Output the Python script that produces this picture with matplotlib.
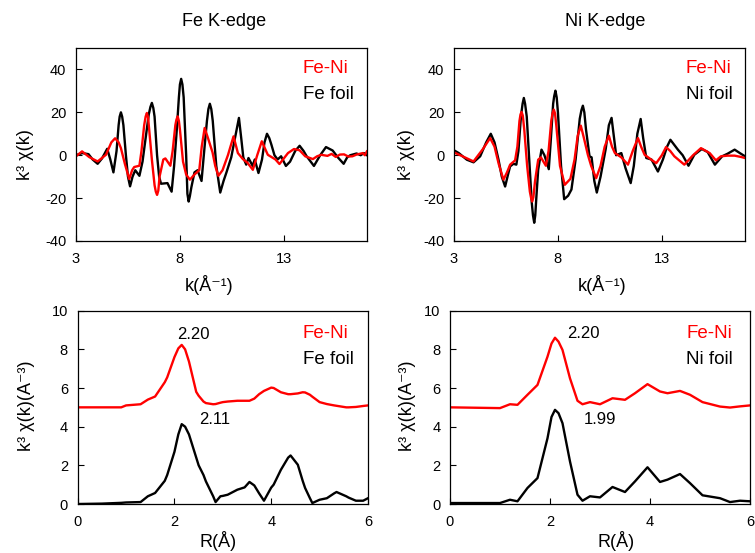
import numpy as np
import matplotlib
matplotlib.use("Agg")
from matplotlib import pyplot as plt

plt.rcParams['font.family'] = ['Liberation Sans', 'DejaVu Sans']
plt.rcParams['axes.unicode_minus'] = False

# ---- k-space, Fe K-edge ----
fe_foil_k = [3.0, 3.3, 3.6, 3.8, 4.04, 4.25, 4.5, 4.65, 4.8, 4.95, 5.05, 5.1, 5.16, 5.22, 5.28, 5.4,
             5.5, 5.6, 5.72, 5.85, 6.05, 6.2, 6.35, 6.5, 6.58, 6.65, 6.72, 6.78, 6.9, 7.0, 7.09, 7.4,
             7.6, 7.72, 7.85, 7.95, 8.0, 8.06, 8.12, 8.18, 8.3, 8.36, 8.42, 8.48, 8.55, 8.7, 8.85,
             9.04, 9.15, 9.3, 9.37, 9.44, 9.51, 9.58, 9.75, 9.94, 10.1, 10.24, 10.47, 10.65, 10.84,
             10.95, 11.05, 11.19, 11.3, 11.5, 11.6, 11.78, 11.95, 12.07, 12.19, 12.3, 12.4, 12.55,
             12.7, 12.87, 13.1, 13.3, 13.55, 13.76, 13.95, 14.1, 14.45, 14.75, 15.03, 15.35, 15.6,
             15.88, 16.05, 16.2, 16.5, 16.7, 16.85, 17.0]
fe_foil_chi = [0, 1, 0.5, -2, -4, -1.5, 3, -2, -8, 2, 14, 18, 20, 18, 14, 0,
               -10, -14.5, -10, -7, -9.6, -3, 8, 19, 22.5, 24.4, 22, 18, 0, -10, -13.3, -13,
               -17, -5, 12, 27, 33, 35.6, 33, 27, 0, -18, -21.6, -19, -15, -8, -7,
               -12, 0, 16, 21.5, 24, 21.5, 16, -5, -17.4, -12, -8, -1, 8, 17.4,
               8, -1, -4.4, -1.3, -5, -2, -8.3, -2, 6, 10, 8, 5, 0,
               -2, -0.5, -5, -3, 2, 4.4, 2, -0.5, -5, 0, 3.8, 2.2, -1,
               -4, -1, 0, 0.8, 0, 1, 0]

feni_fe_k = [3.0, 3.29, 3.64, 4.04, 4.44, 4.7, 4.88, 5.05, 5.16, 5.35, 5.56, 5.7, 5.8, 6.05, 6.15,
             6.28, 6.35, 6.41, 6.47, 6.52, 6.65, 6.78, 6.84, 6.9, 6.96, 7.02, 7.2, 7.3, 7.54, 7.65,
             7.78, 7.83, 7.89, 7.95, 8.0, 8.15, 8.3, 8.48, 8.7, 8.93, 9.05, 9.19, 9.35, 9.57, 9.7,
             9.85, 10.05, 10.31, 10.58, 10.79, 11.03, 11.25, 11.51, 11.72, 11.94, 12.1, 12.23, 12.6,
             12.79, 13.0, 13.2, 13.49, 13.76, 14.03, 14.4, 14.6, 14.8, 15.1, 15.3, 15.5, 15.7, 15.9,
             16.1, 16.3, 16.5, 16.8, 16.9, 17.0]
feni_fe_chi = [-0.5, 1.8, -0.9, -2.9, 0.2, 6, 7.9, 6, 3.3, -4, -11.1, -7, -5.5, -4.9, 2,
               14, 18, 19.7, 17.5, 12, -2, -14, -17, -18.5, -16.5, -10, -2, -1.5, -4.9, 2,
               14, 16.5, 18.1, 16, 12, -3, -9, -11.4, -9, -7, 4, 12.7, 8, 1.3, -5,
               -9.6, -7, 0, 8.8, 1, -1.8, -3.5, -6.8, 0, 6.5, 3, 0.2, -2,
               -4.1, -1.5, 1, 2.9, 2.3, -0.5, -1.8, -0.5, 0.2, -0.3, 0.6, -0.8, 0.3, 0.4,
               -0.6, -0.5, 0.3, 1, 0, 1.8]

# ---- k-space, Ni K-edge ----
ni_foil_k = [3.0, 3.23, 3.62, 3.94, 4.26, 4.55, 4.77, 4.95, 5.14, 5.3, 5.46, 5.6, 5.7, 5.86, 6.0,
             6.1, 6.22, 6.3, 6.36, 6.42, 6.5, 6.62, 6.74, 6.8, 6.86, 6.91, 6.96, 7.05, 7.21, 7.35,
             7.45, 7.56, 7.65, 7.77, 7.82, 7.88, 7.94, 8.0, 8.15, 8.3, 8.49, 8.65, 8.85, 9.05, 9.13,
             9.2, 9.27, 9.35, 9.52, 9.62, 9.75, 9.87, 10.05, 10.3, 10.45, 10.58, 10.7, 10.8, 11.05,
             11.25, 11.5, 11.65, 11.82, 11.98, 12.1, 12.25, 12.5, 12.81, 13.05, 13.25, 13.41, 13.77,
             14.0, 14.28, 14.56, 14.92, 15.2, 15.55, 15.9, 16.16, 16.5, 16.75, 17.0]
ni_foil_chi = [2.3, 1, -2.1, -3.3, -0.5, 6, 10, 6, -2, -10, -14.6, -9, -5.2, -4, -4.4,
               2, 18, 24, 26.7, 24, 18, -2, -22, -28, -31.5, -28, -20, -6.8, 2.6, 0,
               -3, -6.5, 6, 24, 27.5, 30.1, 27, 20, -5, -20.5, -18.9, -16, -2, 17, 21,
               23.1, 20, 12, -0.5, -1, -12, -17.4, -10, 3, 14, 17.4, 8, 0, 1,
               -6, -13, -5, 10, 16.9, 8, -1.3, -2, -7.6, -2, 4, 7.2, 2.6,
               0, -4.9, 0.2, 2.9, 1.5, -4.4, -0.5, 0.7, 2.6, 1, -0.5]

feni_ni_k = [3.0, 3.3, 3.94, 4.4, 4.74, 4.95, 5.15, 5.38, 5.55, 5.7, 5.94, 6.05, 6.15, 6.2, 6.25,
             6.31, 6.38, 6.52, 6.65, 6.71, 6.76, 6.82, 6.9, 7.05, 7.18, 7.42, 7.55, 7.68, 7.74, 7.8,
             7.86, 7.92, 8.1, 8.33, 8.6, 8.8, 8.95, 9.1, 9.25, 9.44, 9.6, 9.84, 10.05, 10.25, 10.45,
             10.6, 10.74, 11.05, 11.37, 11.6, 11.85, 12.0, 12.17, 12.41, 12.73, 13.0, 13.2, 13.4,
             13.6, 14.08, 14.5, 14.88, 15.3, 15.6, 15.84, 16.16, 16.5, 16.8, 17.0]
feni_ni_chi = [1.3, 0, -2.9, 3, 8, 4, -4, -11.4, -8, -4.4, -2.4, 4, 16, 19, 20.2,
               18.5, 12, -5, -17, -20, -21.6, -19.5, -12, -2.1, -1, -4.9, 2, 16, 19.5, 21.3,
               19.5, 14, -5, -13.8, -11, -2, 9, 13.8, 8, 0.2, -5, -10.7, -5, 4, 9.1,
               4, 1, -1, -4.4, 2, 8, 4, 0.2, -1.5, -3.7, 0, 3.8, 2,
               -0.5, -4.4, 0, 3.3, 1, -2.4, -0.5, -0.2, -0.2, -0.8, -1.3]

# ---- R-space, Fe K-edge ----
fe_r = [0.0, 0.5, 0.9, 1.0, 1.3, 1.45, 1.6, 1.8, 1.85, 2.0, 2.08, 2.15, 2.22, 2.3, 2.45, 2.5, 2.6,
        2.65, 2.8, 2.85, 2.95, 3.0, 3.1, 3.3, 3.45, 3.55, 3.65, 3.75, 3.85, 4.0, 4.05, 4.2, 4.35,
        4.4, 4.55, 4.65, 4.7, 4.8, 4.85, 5.0, 5.15, 5.3, 5.35, 5.55, 5.6, 5.75, 5.9, 6.0]
feni_fe_ft = [5.0, 5.0, 5.0, 5.1, 5.16, 5.4, 5.56, 6.3, 6.55, 7.6, 8.05, 8.23, 8.0, 7.37, 5.8,
              5.6, 5.3, 5.22, 5.16, 5.17, 5.24, 5.27, 5.3, 5.34, 5.34, 5.34, 5.45, 5.68, 5.85,
              6.02, 6.0, 5.78, 5.68, 5.68, 5.72, 5.78, 5.77, 5.65, 5.55, 5.27, 5.17, 5.1, 5.08,
              5.0, 5.0, 5.02, 5.07, 5.1]
fe_foil_ft = [0.0, 0.02, 0.06, 0.08, 0.1, 0.4, 0.57, 1.2, 1.5, 2.7, 3.6, 4.13, 4.0, 3.6, 2.4,
              2.0, 1.5, 1.17, 0.4, 0.1, 0.4, 0.42, 0.48, 0.74, 0.86, 1.14, 0.96, 0.55, 0.17,
              0.85, 1.0, 1.77, 2.4, 2.51, 2.03, 1.2, 0.83, 0.3, 0.05, 0.22, 0.3, 0.55, 0.62,
              0.4, 0.33, 0.17, 0.17, 0.3]

# ---- R-space, Ni K-edge ----
ni_r = [0.0, 0.5, 1.0, 1.2, 1.35, 1.55, 1.75, 1.95, 2.03, 2.1, 2.17, 2.25, 2.4, 2.55, 2.65, 2.8,
        3.0, 3.25, 3.5, 3.7, 3.95, 4.2, 4.35, 4.6, 4.8, 5.05, 5.4, 5.6, 5.8, 6.0]
feni_ni_ft = [5.0, 4.98, 4.96, 5.16, 5.13, 5.65, 6.16, 7.62, 8.3, 8.6, 8.4, 7.97, 6.5, 5.34,
              5.16, 5.27, 5.16, 5.47, 5.39, 5.73, 6.2, 5.82, 5.73, 5.85, 5.65, 5.27, 5.04, 4.99,
              5.05, 5.1]
ni_foil_ft = [0.05, 0.05, 0.05, 0.22, 0.14, 0.83, 1.34, 3.4, 4.5, 4.87, 4.7, 4.18, 2.2, 0.48,
              0.17, 0.4, 0.34, 0.88, 0.62, 1.17, 1.9, 1.14, 1.26, 1.55, 1.08, 0.45, 0.3, 0.1,
              0.17, 0.14]

fig = plt.figure(figsize=(7.55, 5.53), dpi=100)
ax1 = fig.add_axes([0.1007, 0.5642, 0.3853, 0.349])
ax2 = fig.add_axes([0.6013, 0.5642, 0.3855, 0.349])
ax3 = fig.add_axes([0.1029, 0.0886, 0.3845, 0.3496])
ax4 = fig.add_axes([0.5960, 0.0886, 0.3974, 0.3496])

lw = 1.7
kw = dict(lw=lw, solid_joinstyle='round')
ax1.plot(fe_foil_k, fe_foil_chi, color='black', **kw)
ax1.plot(feni_fe_k, feni_fe_chi, color='red', **kw)
ax2.plot(ni_foil_k, ni_foil_chi, color='black', **kw)
ax2.plot(feni_ni_k, feni_ni_chi, color='red', **kw)
ax3.plot(fe_r, feni_fe_ft, color='red', **kw)
ax3.plot(fe_r, fe_foil_ft, color='black', **kw)
ax4.plot(ni_r, feni_ni_ft, color='red', **kw)
ax4.plot(ni_r, ni_foil_ft, color='black', **kw)

for ax in (ax1, ax2):
    ax.set_xlim(3, 17)
    ax.set_ylim(-40, 50)
    ax.set_xticks([3, 8, 13])
    ax.set_yticks([-40, -20, 0, 20, 40])
    ax.set_xlabel('k(Å⁻¹)', fontsize=13)
    ax.set_ylabel('k³ χ(k)', fontsize=13)
for ax in (ax3, ax4):
    ax.set_xlim(0, 6)
    ax.set_ylim(0, 10)
    ax.set_xticks([0, 2, 4, 6])
    ax.set_yticks([0, 2, 4, 6, 8, 10])
    ax.set_xlabel('R(Å)', fontsize=13)
    ax.set_ylabel('k³ χ(k)(A⁻³)', fontsize=13)

for ax in (ax1, ax2, ax3, ax4):
    ax.tick_params(direction='in', length=4, width=0.8, labelsize=10.5)
    ax.tick_params(axis='x', pad=8)
    ax.tick_params(axis='y', pad=7)
    for s in ax.spines.values():
        s.set_linewidth(0.9)
    ax.yaxis.label.set_va('center')
    ax.xaxis.label.set_va('center')

ax1.yaxis.set_label_coords(-0.175, 0.45)
ax2.yaxis.set_label_coords(-0.164, 0.45)
ax3.yaxis.set_label_coords(-0.175, 0.507)
ax4.yaxis.set_label_coords(-0.141, 0.507)
ax1.xaxis.set_label_coords(0.457, -0.228)
ax2.xaxis.set_label_coords(0.51, -0.228)
ax3.xaxis.set_label_coords(0.483, -0.19)
ax4.xaxis.set_label_coords(0.555, -0.19)

ax1.text(0.78, 0.895, 'Fe-Ni', color='red', fontsize=13.5, transform=ax1.transAxes, va='center')
ax1.text(0.78, 0.76, 'Fe foil', color='black', fontsize=13.5, transform=ax1.transAxes, va='center')
ax2.text(0.797, 0.895, 'Fe-Ni', color='red', fontsize=13.5, transform=ax2.transAxes, va='center')
ax2.text(0.797, 0.76, 'Ni foil', color='black', fontsize=13.5, transform=ax2.transAxes, va='center')
ax3.text(0.776, 0.88, 'Fe-Ni', color='red', fontsize=13.5, transform=ax3.transAxes, va='center')
ax3.text(0.776, 0.745, 'Fe foil', color='black', fontsize=13.5, transform=ax3.transAxes, va='center')
ax4.text(0.787, 0.88, 'Fe-Ni', color='red', fontsize=13.5, transform=ax4.transAxes, va='center')
ax4.text(0.787, 0.745, 'Ni foil', color='black', fontsize=13.5, transform=ax4.transAxes, va='center')

ax3.text(2.39, 8.78, '2.20', fontsize=12, ha='center', va='center')
ax3.text(2.84, 4.35, '2.11', fontsize=12, ha='center', va='center')
ax4.text(2.67, 8.8, '2.20', fontsize=12, ha='center', va='center')
ax4.text(3.0, 4.39, '1.99', fontsize=12, ha='center', va='center')

fig.text(224 / 755, 1 - 21 / 553, 'Fe K-edge', fontsize=13, ha='center', va='center')
fig.text(605 / 755, 1 - 21 / 553, 'Ni K-edge', fontsize=13, ha='center', va='center')

plt.savefig('out.png', dpi=100)
